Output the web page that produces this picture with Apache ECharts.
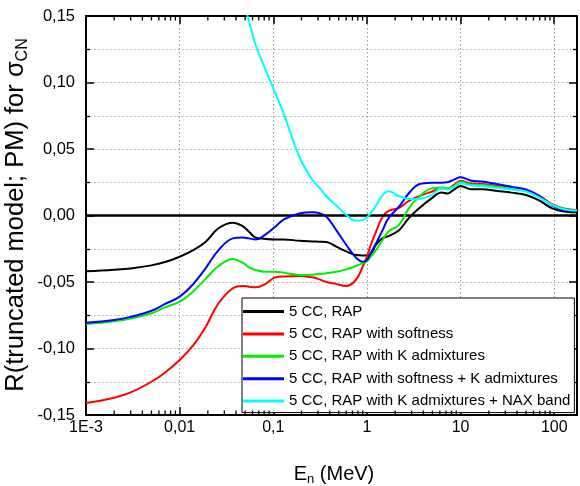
<!DOCTYPE html>
<html><head><meta charset="utf-8">
<script src="https://cdn.jsdelivr.net/npm/echarts@6/dist/echarts.min.js"></script>
<style>html,body{margin:0;padding:0;background:#fff}#c{width:580px;height:486px}</style>
</head><body><div id="c"></div>
<script>
const energy = [0.001,0.002,0.003,0.005,0.007,0.01,0.014,0.019,0.026,0.037,0.047,0.055,0.065,0.08,0.105,0.13,0.19,0.26,0.31,0.37,0.47,0.6,0.76,0.9,1.0,1.1,1.25,1.47,1.7,2.2,2.8,3.6,4.9,6.3,7.2,8.5,10,13,17,25,35,50,70,95,130,175];
const rap = [-0.042,-0.0408,-0.0398,-0.0375,-0.035,-0.031,-0.026,-0.0197,-0.0096,-0.0054,-0.008,-0.0122,-0.0167,-0.0175,-0.018,-0.018,-0.019,-0.0195,-0.0197,-0.020,-0.0234,-0.027,-0.0297,-0.030,-0.030,-0.029,-0.022,-0.017,-0.0155,-0.011,-0.002,0.0054,0.0129,0.0172,0.0165,0.0195,0.0222,0.0197,0.0197,0.0184,0.0172,0.0154,0.0111,0.0054,0.003,0.0022];
const rapSoft = [-0.141,-0.137,-0.133,-0.125,-0.118,-0.1087,-0.0975,-0.0836,-0.066,-0.0547,-0.053,-0.0535,-0.054,-0.052,-0.0465,-0.0458,-0.0455,-0.0465,-0.048,-0.050,-0.0515,-0.053,-0.0485,-0.0385,-0.031,-0.022,-0.0122,-0.001,0.0035,0.0058,0.011,0.0145,0.0179,0.0204,0.020,0.023,0.0262,0.024,0.0237,0.0222,0.0208,0.019,0.0145,0.0085,0.005,0.0042];
const rapK = [-0.0816,-0.0795,-0.0775,-0.0735,-0.069,-0.0648,-0.057,-0.0475,-0.038,-0.0327,-0.0355,-0.039,-0.041,-0.0423,-0.0423,-0.043,-0.0447,-0.0445,-0.044,-0.0435,-0.0423,-0.0405,-0.038,-0.036,-0.0345,-0.031,-0.026,-0.0184,-0.012,-0.007,0.0054,0.0141,0.0204,0.021,0.0205,0.022,0.0254,0.0232,0.023,0.0215,0.0203,0.0185,0.014,0.0082,0.0048,0.004];
const rapSoftK = [-0.0806,-0.0785,-0.0762,-0.0716,-0.0665,-0.061,-0.0515,-0.0395,-0.026,-0.0172,-0.0165,-0.0172,-0.018,-0.015,-0.0084,-0.003,0.0015,0.0024,0.0018,-0.001,-0.011,-0.022,-0.0315,-0.0347,-0.0335,-0.028,-0.021,-0.011,-0.002,0.0066,0.0167,0.0235,0.0247,0.0247,0.025,0.027,0.0287,0.0262,0.0255,0.0235,0.0217,0.0195,0.0145,0.0075,0.004,0.0035];
const energyNax = [0.05,0.055,0.065,0.08,0.105,0.13,0.19,0.26,0.31,0.37,0.47,0.6,0.76,0.9,1.0,1.1,1.25,1.47,1.7,2.2,2.8,3.6,4.9,6.3,7.2,8.5,10,13,17,25,35,50,70,95,130,175];
const rapKNax = [0.158,0.146,0.128,0.112,0.092,0.076,0.044,0.027,0.021,0.0145,0.0075,0.0005,-0.004,-0.0035,-0.0015,0.002,0.0075,0.0155,0.0183,0.0145,0.0125,0.0125,0.0155,0.0205,0.0195,0.0215,0.0242,0.0225,0.0222,0.0208,0.0195,0.018,0.0135,0.0078,0.0045,0.0038];
const seriesNames = ['5 CC, RAP','5 CC, RAP with softness','5 CC, RAP with K admixtures','5 CC, RAP with softness + K admixtures','5 CC, RAP with K admixtures + NAX band'];
const seriesColors = ['#000000','#ff0000','#00ee00','#0000ff','#00ffff'];
const xTickValues = [0.001,0.01,0.1,1,10,100];
const xTickLabels = ['1E-3','0,01','0,1','1','10','100'];
const xMinorMultipliers = [2,3,4,5,6,7,8,9];

const X_MIN = 0.001, X_MAX = 175, Y_MIN = -0.15, Y_MAX = 0.15;
const pairs = (xs, ys) => xs.map((x,i)=>[x, ys[i]]);
const dataSets = [pairs(energy,rap),pairs(energy,rapSoft),pairs(energy,rapK),pairs(energy,rapSoftK),pairs(energyNax,rapKNax)];
const minorX = [];
xTickValues.forEach(d => xMinorMultipliers.forEach(m => { const v = d*m; if (v < X_MAX) minorX.push([v, 0]); }));
const FONT = 'Liberation Sans, Arial, sans-serif';

function xLabel(v){
  for (let i=0;i<xTickValues.length;i++) if (Math.abs(Math.log10(v)-Math.log10(xTickValues[i]))<1e-6) return xTickLabels[i];
  return '';
}
const axisLine = {show:true, onZero:false, lineStyle:{color:'#000', width:2}};
const xBase = {type:'log', logBase:10, min:X_MIN, max:X_MAX, gridIndex:0,
  axisLine, axisTick:{show:true, inside:true, length:8, lineStyle:{color:'#000', width:1.5}},
  splitLine:{show:false}};
const yBase = {type:'value', min:Y_MIN, max:Y_MAX, interval:0.05, gridIndex:0,
  axisLine, axisTick:{show:true, inside:true, length:8, lineStyle:{color:'#000', width:1.5}},
  minorTick:{show:true, splitNumber:2, length:4, lineStyle:{color:'#000', width:1.3}},
  splitLine:{show:false}};

const chart = echarts.init(document.getElementById('c'), null, {renderer:'canvas'});
const lines = dataSets.map((d,i)=>({
  name:seriesNames[i], type:'line', xAxisIndex:0, yAxisIndex:0, data:d,
  showSymbol:false, symbol:'none', smooth:0.4, clip:true,
  lineStyle:{color:seriesColors[i], width:2}, itemStyle:{color:seriesColors[i]},
  z: 3 + i,
  markLine: i===0 ? {silent:true, symbol:'none', label:{show:false},
    lineStyle:{color:'#000', width:2.5, type:'solid'}, data:[{yAxis:0}]} : undefined
}));
lines.push({
  name:'minorTicks', type:'custom', xAxisIndex:0, yAxisIndex:0, data:minorX, silent:true, clip:false, z:20,
  renderItem:(params, api) => {
    const v = api.value(0);
    const b = api.coord([v, Y_MIN]);
    const t = api.coord([v, Y_MAX]);
    const st = {stroke:'#000', lineWidth:1.3};
    return {type:'group', children:[
      {type:'line', shape:{x1:b[0], y1:b[1], x2:b[0], y2:b[1]-4.5}, style:st},
      {type:'line', shape:{x1:t[0], y1:t[1], x2:t[0], y2:t[1]+4.5}, style:st}
    ]};
  }
});
const option = {
  animation:false,
  backgroundColor:'#fff',
  grid:{left:86, right:2, top:16, bottom:71, containLabel:false},
  xAxis:[
    Object.assign({}, xBase, {position:'bottom',
      axisLabel:{show:true, margin:5, fontSize:16, color:'#000', fontFamily:FONT, formatter:xLabel, showMinLabel:true, showMaxLabel:true, hideOverlap:false},
      splitLine:{show:true, lineStyle:{color:'#999', type:[1.5,2.5], width:1}}}),
    Object.assign({}, xBase, {position:'top', axisLabel:{show:false}})
  ],
  yAxis:[
    Object.assign({}, yBase, {position:'left',
      axisLabel:{show:true, margin:11, fontSize:16.5, color:'#000', fontFamily:FONT, formatter:v=>v.toFixed(2).replace('.',',')},
      splitLine:{show:true, lineStyle:{color:'#aaa', type:[1.5,2.5], width:1}},
      minorSplitLine:{show:true, lineStyle:{color:'#aaa', type:[1.5,2.5], width:1}}}),
    Object.assign({}, yBase, {position:'right', axisLabel:{show:false}})
  ],
  legend:{
    orient:'vertical', left:242, top:298, width:340,
    padding:[5,4,3,1], itemGap:5.4, itemWidth:41, itemHeight:3, icon:'rect',
    borderColor:'#000', borderWidth:1, backgroundColor:'#fff',
    textStyle:{fontSize:15, fontFamily:FONT, color:'#000', lineHeight:17},
    data:seriesNames
  },
  graphic:[
    {type:'text', x:334, y:474, style:{
      text:'{a|E}{s|n}{a| (MeV)}', align:'center', verticalAlign:'middle',
      rich:{a:{fontSize:20, fontFamily:FONT, fill:'#000'}, s:{fontSize:13, fontFamily:FONT, fill:'#000', padding:[11,0,0,0]}}}},
    {type:'text', x:16, y:215, rotation:Math.PI/2, style:{
      text:'{a|R(truncated model; PM) for σ}{s|CN}', align:'center', verticalAlign:'middle',
      rich:{a:{fontSize:25.5, fontFamily:FONT, fill:'#000'}, s:{fontSize:16, fontFamily:FONT, fill:'#000', padding:[14,0,0,0]}}}}
  ],
  series: lines
};
chart.setOption(option);
</script></body></html>
